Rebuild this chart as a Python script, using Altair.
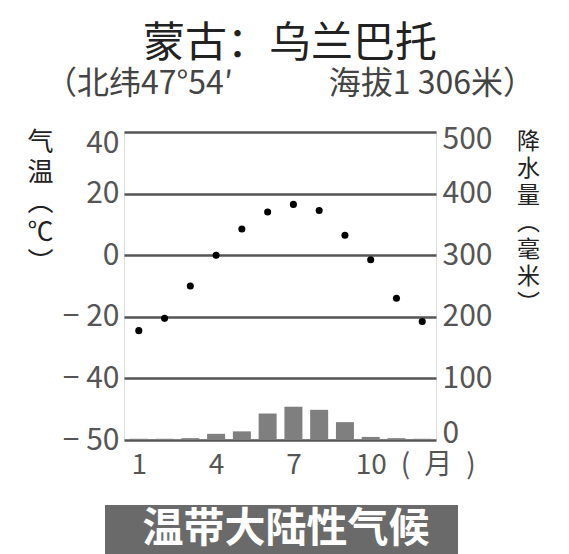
import altair as alt
import pandas as pd

# ---- data ----
months = list(range(1, 13))
temperature = [-24.5, -20.5, -10, 0, 8.5, 14, 16.5, 14.5, 6.5, -1.5, -14, -21.5]
precipitation = [2, 2, 3, 10, 14, 43, 54, 49, 29, 5, 3, 2]
temp_ticks = [-60, -40, -20, 0, 20, 40]
precip_ticks = [0, 100, 200, 300, 400, 500]
month_ticks = [1, 4, 7, 10]
title_text = "蒙古：乌兰巴托"
subtitle_text = "（北纬47°54′　　　海拔1 306米）"
temp_title = ["气", "温", "︵", "℃", "︶"]
precip_title = ["降", "水", "量", "︵", "毫", "米", "︶"]
month_unit = "(\u2002月\u2002)"
climate_label = "温带大陆性气候"

FONT = "Noto Sans CJK SC"
W, H = 312, 308

df = pd.DataFrame({"month": months, "temp": temperature, "precip": precipitation})
one = pd.DataFrame({"k": [0]})

x_enc = alt.X(
    "month:Q",
    scale=alt.Scale(domain=[0.62, 12.34], nice=False, zero=False),
    axis=alt.Axis(values=month_ticks, format="d", labelFontSize=28, labelPadding=11,
                  ticks=False, domain=False, grid=False, title=None, labelFlush=False,
                  labelColor="#555", labelFont=FONT),
)

bars = alt.Chart(df).mark_bar(color="#7f7f7f", size=18).encode(
    x=x_enc,
    y=alt.Y("precip:Q", scale=alt.Scale(domain=[0, 500], nice=False),
            axis=alt.Axis(orient="right", values=precip_ticks, ticks=False, domain=False,
                          grid=False, labelFontSize=30, labelPadding=6, labelAlign="left",
                          labelFlush=True, labelFlushOffset=8,
                          labelColor="#555", labelFont=FONT,
                          title=precip_title, titleAngle=0, titleX=92, titleY=-2,
                          titleAlign="center", titleBaseline="top", titleFontSize=23,
                          titleLineHeight=27, titleFontWeight="normal", titleColor="#222",
                          titleFont=FONT)),
)

points = alt.Chart(df).mark_circle(color="black", size=50, opacity=1).encode(
    x=x_enc,
    y=alt.Y("temp:Q", scale=alt.Scale(domain=[-60, 40], nice=False, zero=False),
            axis=alt.Axis(orient="left", values=temp_ticks, ticks=False, domain=False,
                          grid=True, gridColor="#555", gridWidth=2.5, gridOpacity=1,
                          labelFontSize=30, labelPadding=5, labelColor="#555", labelFont=FONT,
                          labelBaseline={"condition": {"test": "datum.value == 40", "value": "top"},
                                         "value": "middle"},
                          labelOffset={"condition": {"test": "datum.value == 40", "value": -4},
                                       "value": 0},
                          labelExpr="datum.value == -60 ? '− 50' : (datum.value < 0 ? '− ' + abs(datum.value) : datum.value)",
                          title=temp_title, titleAngle=0, titleX=-84, titleY=-3,
                          titleAlign="center", titleBaseline="top", titleFontSize=26,
                          titleLineHeight=30, titleFontWeight="normal", titleColor="#222",
                          titleFont=FONT)),
)

unit = alt.Chart(one).mark_text(align="left", baseline="top", dx=30, fontSize=28,
                                font=FONT, color="#555").encode(
    x=alt.datum(10), y=alt.value(H + 12), text=alt.value(month_unit))

box = alt.Chart(one).mark_rect(color="#6a6a6a").encode(
    x=alt.value(-19), x2=alt.value(334), y=alt.value(373), y2=alt.value(440))

box_text = alt.Chart(one).mark_text(align="center", baseline="middle", fontSize=41,
                                    fontWeight="bold", font=FONT, color="white").encode(
    x=alt.value(162), y=alt.value(398), text=alt.value(climate_label))

chart = alt.layer(bars, points, unit, box, box_text).resolve_scale(y="independent").properties(
    width=W, height=H,
    autosize=alt.AutoSizeParams(type="none"),
    padding={"left": 116, "top": 124, "right": 125, "bottom": 114},
    title=alt.Title(title_text, subtitle=subtitle_text, fontSize=42, subtitleFontSize=32,
                    font=FONT, subtitleFont=FONT, color="#222", subtitleColor="#444",
                    fontWeight="normal", anchor="middle", offset=23, subtitlePadding=3, dx=10),
).configure_view(stroke="#555", strokeWidth=3).configure(background="white")

chart.save("out.html", embed_options={"renderer": "svg", "actions": False})
